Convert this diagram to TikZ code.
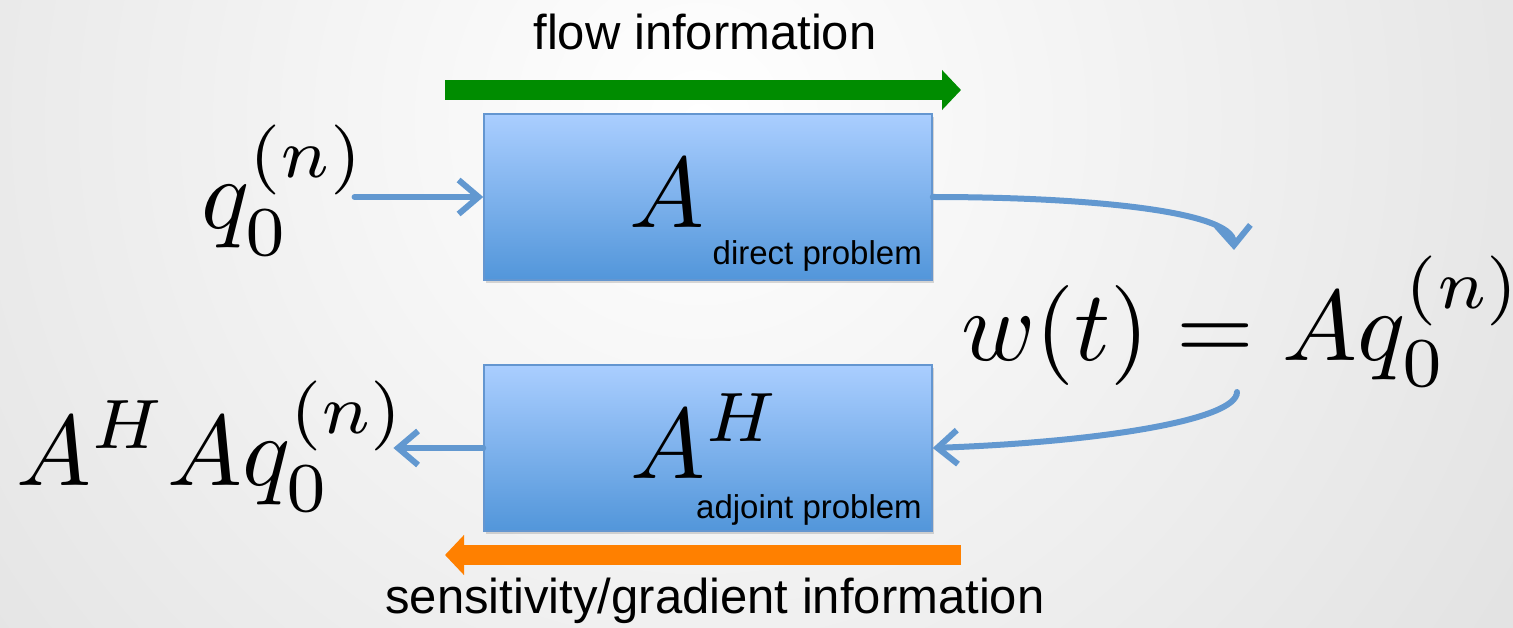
\documentclass[tikz,border=0pt]{standalone}
\usepackage{fontspec}
\newfontfamily\labelfont{Liberation Sans}
\usetikzlibrary{positioning, arrows.meta, shadows}
\definecolor{boxtop}{RGB}{170,206,255}
\definecolor{boxbottom}{RGB}{82,150,218}
\definecolor{boxline}{RGB}{100,150,208}
\definecolor{linkblue}{RGB}{98,152,208}
\definecolor{flowgreen}{RGB}{0,140,0}
\definecolor{gradorange}{RGB}{255,128,0}
\newcommand{\hugemath}[1]{\scalebox{10}{$#1$}} % 10pt math blown up
\tikzset{
    problem/.style={ % the two operator boxes
        draw=boxline, line width=1.5pt,
        top color=boxtop, bottom color=boxbottom,
        minimum width=448pt, minimum height=166pt, inner sep=0pt,
        drop shadow={opacity=.3, shadow xshift=2pt, shadow yshift=-3pt}
    },
    link/.style={ % thin blue connectors with open heads
        draw=linkblue, line width=6pt, line cap=round,
        -{Straight Barb[length=20pt,width=34pt]}
    },
    bigarrow/.style={line width=20pt, -{Triangle[length=19pt,width=39pt]}},
    bigmath/.style={inner sep=0pt},
    caption/.style={inner sep=0pt, font=\labelfont\fontsize{49}{58}\selectfont},
    tag/.style={inner sep=0pt, font=\labelfont\fontsize{33}{40}\selectfont}
}
\begin{document}
\begin{tikzpicture}[x=1pt, y=-1pt]
    % background, pixel units with y pointing down
    \useasboundingbox (0,0) rectangle (1513,628);
    \begin{scope}
        \clip (0,0) rectangle (1513,628);
        \shade[inner color=white, outer color=black!21] (-1100,-1680) rectangle (2500,1920);
    \end{scope}

    % boxes
    \node[problem] (direct) at (708,197) {};
    \node[problem] (adjoint) at (708,448) {};
    \node[bigmath, anchor=base] (dirop) at (667,228) {\hugemath{A}};
    \node[bigmath, anchor=base west] (adjop) at (630,478) {\hugemath{A^H}};
    \node[tag, anchor=base east] (dirtag) at (922,265) {direct problem};
    \node[tag, anchor=base east] (adjtag) at (922,518) {adjoint problem};

    % inputs and outputs
    \node[bigmath, anchor=base west] (qin) at (201,229) {\hugemath{q_0^{(n)}}};
    \node[bigmath, anchor=base west] (wt) at (961,360) {\hugemath{w(t) = Aq_0^{(n)}}};
    \node[bigmath, anchor=base west] (grad) at (16,485) {\hugemath{A^H Aq_0^{(n)}}};
    \coordinate (wtin) at (1234,250);
    \coordinate (wtout) at (1237,392);

    \draw[link] ([xshift=-12pt]qin.east |- direct.west) -- (direct.west);
    \draw[link] (direct.east) .. controls (1080,197) and (1233,210) .. (wtin);
    \draw[link] (wtout) .. controls (1237,420) and (1100,442) .. (adjoint.east);
    \draw[link] (adjoint.west) -- ([xshift=-14pt]grad.east |- adjoint.west);

    % information flow
    \coordinate (flowfrom) at (445,90);
    \coordinate (flowto) at (961,90);
    \coordinate (sensfrom) at (961,555);
    \coordinate (sensto) at (445,555);
    \draw[bigarrow, flowgreen] (flowfrom) -- (flowto);
    \draw[bigarrow, gradorange] (sensfrom) -- (sensto);
    \node[caption, anchor=base] (flowlabel) at (705,50) {flow information};
    \node[caption, anchor=base] (senslabel) at (715,613) {sensitivity/gradient information};
\end{tikzpicture}
\end{document}
